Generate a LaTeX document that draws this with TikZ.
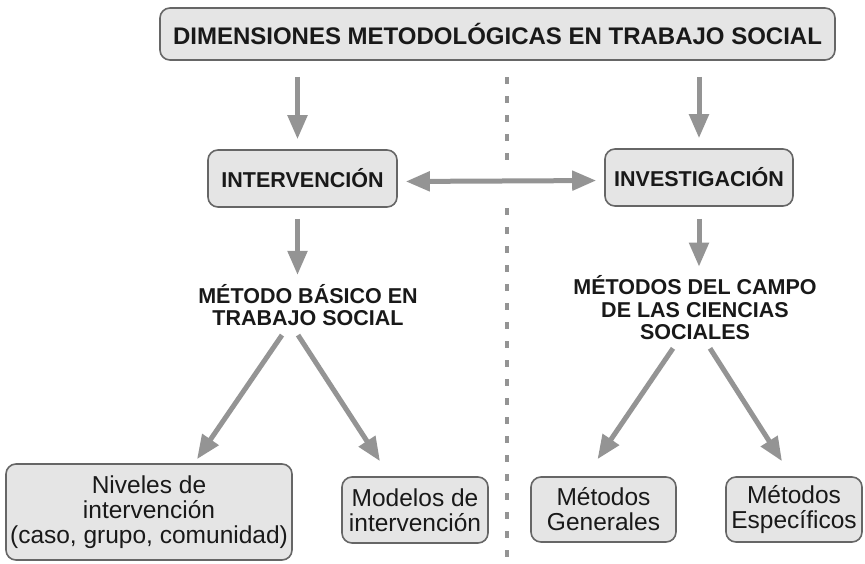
\documentclass[tikz,border=0pt]{standalone}
\usepackage{fontspec}
\setmainfont{Liberation Sans}
\usetikzlibrary{arrows.meta, positioning, calc}
\definecolor{mainBlack}{gray}{0.1}
\definecolor{boxGray}{gray}{0.9}
\definecolor{lineGray}{gray}{0.4}
\definecolor{arrowGray}{gray}{0.58}

\begin{document}
\begin{tikzpicture}[x=1pt, y=-1pt,
    box/.style={draw=lineGray, line width=1.6pt, fill=boxGray, rounded corners=10pt,
        text=mainBlack, align=center, inner sep=0pt,
        font=\fontsize{24.5}{25}\selectfont},
    boldBox/.style={box, font=\bfseries\fontsize{21.5}{23}\selectfont},
    headText/.style={text=mainBlack, align=center, inner sep=0pt,
        font=\bfseries\fontsize{21.5}{22.5}\selectfont},
    arr/.style={-{Triangle[length=24pt, width=19pt]}, line width=5pt, arrowGray},
    ]
    \useasboundingbox (0,0) rectangle (865,563);

    % divider
    \coordinate (divA) at (507,77);
    \coordinate (divB) at (507,160);
    \coordinate (divC) at (507,208);
    \coordinate (divD) at (507,563);
    \draw[arrowGray, line width=4pt, dash pattern=on 7pt off 12pt] (divA) -- (divB);
    \draw[arrowGray, line width=4pt, dash pattern=on 7pt off 12pt] (divC) -- (divD);

    \node[boldBox, minimum width=675pt, minimum height=52pt,
        font=\bfseries\fontsize{24}{26}\selectfont] (dims) at (497.5,34)
        {DIMENSIONES METODOLÓGICAS EN TRABAJO SOCIAL};

    \node[boldBox, minimum width=189pt, minimum height=57pt] (interv) at (302.5,178.5) {INTERVENCIÓN};
    \node[boldBox, minimum width=188pt, minimum height=57pt] (invest) at (699,177.5) {INVESTIGACIÓN};

    \draw[arr, shorten <=16pt, shorten >=10pt] ([xshift=-5pt]dims.south -| interv.north) -- ([xshift=-5pt]interv.north);
    \draw[arr, shorten <=16pt, shorten >=10pt] (dims.south -| invest.north) -- (invest.north);
    \draw[arr, {Triangle[length=24pt, width=19pt]}-{Triangle[length=24pt, width=19pt]},
        shorten <=8pt, shorten >=8pt] ([yshift=-3pt]interv.east) -- ([yshift=-3pt]invest.west);

    % left side
    \node[headText] (basico) at (308,305) {MÉTODO BÁSICO EN\\TRABAJO SOCIAL};
    \draw[arr, shorten <=11pt, shorten >=9pt] ([xshift=-5pt]interv.south) -- ([xshift=-5pt]interv.south |- basico.north);

    \node[box, minimum width=286pt, minimum height=96pt] (niveles) at (149,512)
        {Niveles de\\intervención\\(caso, grupo, comunidad)};
    \node[box, minimum width=146pt, minimum height=66pt] (modelos) at (415,510)
        {Modelos de\\intervención};
    \draw[arr] ($(basico.south)+(-26,9)$) -- ($(niveles.north)+(48,-4)$);
    \draw[arr] ($(basico.south)+(-10,9)$) -- ($(modelos.north)+(-35,-15)$);

    % right side
    \node[headText] (campo) at (695,308) {MÉTODOS DEL CAMPO\\DE LAS CIENCIAS\\SOCIALES};
    \draw[arr, shorten <=12pt, shorten >=9pt] (invest.south) -- (invest.south |- campo.north);

    \node[box, minimum width=145pt, minimum height=65pt] (generales) at (603.5,509.5)
        {Métodos\\Generales};
    \node[box, minimum width=136pt, minimum height=65pt] (especificos) at (794,509.5)
        {Métodos\\Específicos};
    \draw[arr] ($(campo.south)+(-22,8)$) -- ($(generales.north)+(-6,-17)$);
    \draw[arr] ($(campo.south)+(15,8)$) -- ($(especificos.north)+(-12,-15)$);
\end{tikzpicture}
\end{document}
